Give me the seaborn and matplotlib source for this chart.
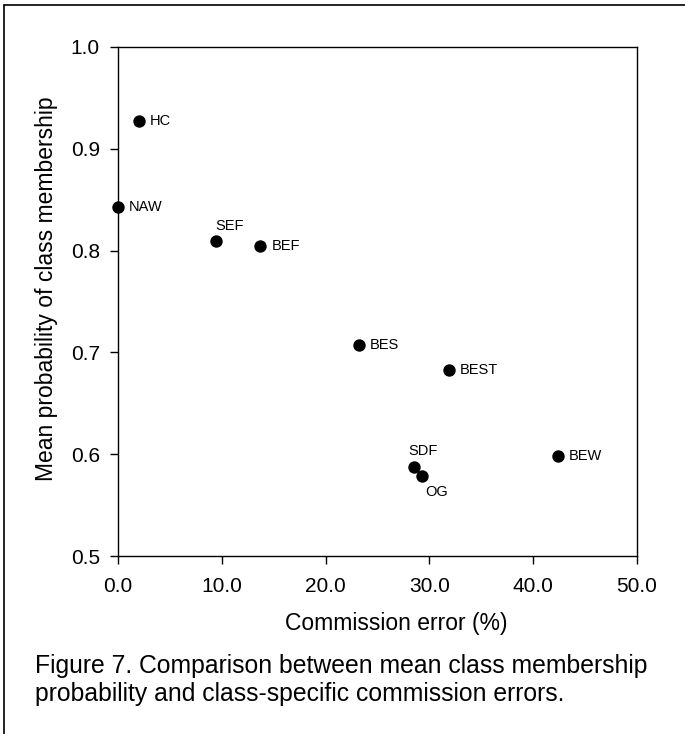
import matplotlib
matplotlib.use("Agg")
import matplotlib.pyplot as plt
import seaborn as sns
import pandas as pd
from matplotlib.lines import Line2D

# values
classes = ["HC", "NAW", "SEF", "BEF", "BES", "BEST", "SDF", "OG", "BEW"]
commission_error = [2.0, 0.0, 9.4, 13.7, 23.2, 31.9, 28.5, 29.3, 42.4]
mean_prob = [0.927, 0.843, 0.809, 0.805, 0.707, 0.683, 0.587, 0.579, 0.598]
x_ticks = [0, 10, 20, 30, 40, 50]
y_ticks = [0.5, 0.6, 0.7, 0.8, 0.9, 1.0]

# label placement: (dx, dy) in points, ha, va
label_pos = {
    "HC": (8, 0, "left", "center"),
    "NAW": (8, 0, "left", "center"),
    "SEF": (0, 6, "left", "bottom"),
    "BEF": (8, 0, "left", "center"),
    "BES": (8, 0, "left", "center"),
    "BEST": (8, 0, "left", "center"),
    "SDF": (-4, 7, "left", "bottom"),
    "OG": (2, -7, "left", "top"),
    "BEW": (8, 0, "left", "center"),
}

df = pd.DataFrame({"cls": classes, "err": commission_error, "prob": mean_prob})

sns.set_theme(style="ticks")
plt.rcParams["font.family"] = ["Liberation Sans", "DejaVu Sans"]
plt.rcParams["text.color"] = "black"
plt.rcParams["axes.labelcolor"] = "black"

fig = plt.figure(figsize=(6.85, 7.34), dpi=100)
ax = fig.add_axes([118 / 685, 1 - 556 / 734, (637 - 118) / 685, (556 - 47) / 734])

sns.scatterplot(data=df, x="err", y="prob", ax=ax, color="black", s=80,
                edgecolor="black", linewidth=0, zorder=3, clip_on=False)

for c, x, y in zip(classes, commission_error, mean_prob):
    dx, dy, ha, va = label_pos[c]
    ax.annotate(c, (x, y), xytext=(dx, dy), textcoords="offset points",
                ha=ha, va=va, fontsize=10.5, color="black")

ax.set_xlim(0, 50)
ax.set_ylim(0.5, 1.0)
ax.set_xticks(x_ticks)
ax.set_xticklabels([f"{t:.1f}" for t in x_ticks])
ax.set_yticks(y_ticks)
ax.set_yticklabels([f"{t:.1f}" for t in y_ticks])
ax.tick_params(axis="both", direction="out", length=6, width=1, labelsize=15,
               colors="black")
ax.tick_params(axis="y", pad=7)
ax.tick_params(axis="x", pad=9)
for side in ["top", "right", "left", "bottom"]:
    ax.spines[side].set_visible(True)
    ax.spines[side].set_linewidth(1)
    ax.spines[side].set_color("black")

ax.set_xlabel("Commission error (%)", fontsize=16.5)
ax.set_ylabel("Mean probability of class membership", fontsize=16.5)
ax.xaxis.set_label_coords(0.536, -0.11)
ax.yaxis.set_label_coords(-0.116, 0.525)

fig.text(35 / 685, 1 - 680 / 734,
         "Figure 7. Comparison between mean class membership\n"
         "probability and class-specific commission errors.",
         ha="left", va="center", fontsize=17.8, linespacing=1.25,
         color="black", family=["Liberation Sans", "DejaVu Sans"])

# outer frame of the figure panel
fig.add_artist(Line2D([4 / 685, 4 / 685], [0, 1 - 5 / 734], color="black", lw=1.2))
fig.add_artist(Line2D([4 / 685, 1], [1 - 5 / 734, 1 - 5 / 734], color="black", lw=1.2))

fig.savefig("out.png", dpi=100)
